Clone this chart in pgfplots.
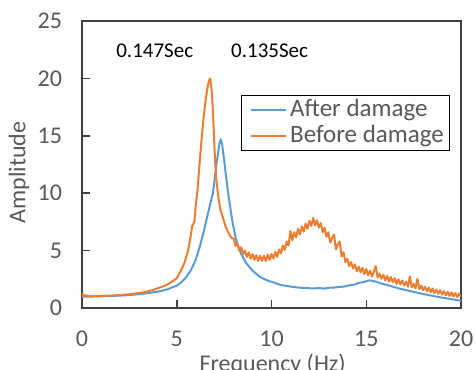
\documentclass[border=0pt]{standalone}
\usepackage{pgfplots}
\pgfplotsset{compat=1.18}
\usepackage{fontspec}
\setmainfont{Carlito}
\definecolor{xlblue}{HTML}{5B9BD5}
\definecolor{xlorange}{HTML}{ED7D31}
\definecolor{txtgray}{HTML}{595959}
\definecolor{axgray}{HTML}{404040}
\begin{document}
\begin{tikzpicture}
\begin{axis}[
  scale only axis, width=189.5pt, height=143.5pt,
  xmin=0, xmax=20, ymin=0, ymax=25,
  xtick={0,5,10,15,20}, ytick={0,5,10,15,20,25},
  tick align=inside, major tick length=4pt,
  axis line style={axgray, line width=0.75pt},
  every tick/.style={axgray, line width=0.75pt},
  xtick pos=bottom, ytick pos=left,
  /pgf/number format/assume math mode=true,
  tick label style={font=\fontsize{12}{14}\selectfont, text=txtgray},
  xticklabel style={yshift=-8pt},
  yticklabel style={xshift=-6.5pt},
  xlabel={Frequency (Hz)}, ylabel={Amplitude},
  label style={font=\fontsize{12}{14}\selectfont, text=txtgray},
  xlabel style={at={(axis description cs:0.503,-0.22)}, anchor=base},
  ylabel style={at={(axis description cs:-0.166,0.472)}, anchor=center},
  legend style={at={(0.971,0.743)}, anchor=north east, draw=black, line width=0.6pt,
    inner xsep=2pt, inner ysep=1.5pt, font=\fontsize{12.5}{14}\selectfont, text=txtgray, row sep=1pt,
    nodes={inner xsep=0.8pt, inner ysep=0.25pt, text height=8.8pt, text depth=2.5pt}},
  legend image code/.code={\path (-2.3pt,0pt) (18.2pt,0pt); \draw[#1, line width=1pt] (0pt,0pt) -- (17.5pt,0pt);},
  legend cell align=left,
]
\addplot[xlblue, line width=1pt, line join=round] coordinates {
(0,0.95) (0.1,1.0) (0.5,1.0) (1,1.02) (1.5,1.05) (2,1.08) (2.5,1.13) (3,1.2) (3.5,1.3) (4,1.42)
(4.5,1.62) (5,1.95) (5.25,2.25) (5.5,2.7) (5.75,3.3) (6.0,4.2) (6.21,5.3) (6.4,6.5) (6.5,7.2)
(6.6,7.9) (6.7,8.6) (6.8,9.3) (6.91,10.0) (7.0,11.2) (7.1,12.6) (7.18,13.5) (7.25,14.3) (7.32,14.7)
(7.4,14.2) (7.5,12.9) (7.6,11.5) (7.7,10.2) (7.79,9.1) (7.95,7.4) (8.14,5.9) (8.4,4.7) (8.67,3.9)
(9.0,3.25) (9.4,2.7) (9.7,2.45) (10.07,2.24) (10.5,2.0) (11,1.87) (11.4,1.78) (11.82,1.74) (12.2,1.7)
(12.5,1.74) (12.8,1.69) (13,1.76) (13.3,1.78) (13.58,1.84) (13.8,1.86) (14.1,1.97) (14.4,2.05) (14.63,2.2)
(14.9,2.28) (15.16,2.42) (15.3,2.36) (15.5,2.3) (15.75,2.15) (16,2.05) (16.4,1.86) (16.74,1.7)
(17.1,1.56) (17.5,1.4) (18,1.22) (18.47,1.07) (18.8,0.96) (19.2,0.85) (19.6,0.74) (20,0.62)
};
\addlegendentry{After damage}
\addplot[xlorange, line width=1pt, line join=round] coordinates {
(0,0.9) (0.05,1.25) (0.1,1.05) (0.2,1.1) (0.5,1.02) (1,1.05) (1.5,1.08) (2,1.12) (2.5,1.2)
(3,1.3) (3.3,1.38) (3.5,1.47) (3.8,1.6) (4,1.72) (4.3,1.9) (4.5,2.05) (4.8,2.35) (5,2.6)
(5.2,3.2) (5.4,3.9) (5.6,5.0) (5.75,6.4) (5.82,7.2) (5.88,7.3) (5.94,7.6) (6.0,8.9) (6.1,10.4)
(6.2,12.5) (6.3,14.5) (6.4,16.3) (6.5,17.8) (6.6,19.0) (6.7,19.8) (6.77,20.0) (6.85,18.8)
(6.9,17.4) (6.95,15.6) (7.0,13.6) (7.05,12.1) (7.1,11.0) (7.2,9.6) (7.3,8.6) (7.43,7.9)
(7.6,7.0) (7.8,6.3) (7.9,6.1)
(8.0,6.05) (8.1,5.4) (8.2,5.65) (8.3,4.95) (8.4,5.3) (8.5,4.7) (8.6,5.0) (8.7,4.45) (8.8,4.85) (8.9,4.3)
(9.0,4.7) (9.1,4.2) (9.2,4.6) (9.3,4.1) (9.4,4.55) (9.5,4.1) (9.6,4.55) (9.7,4.1) (9.8,4.65) (9.9,4.2)
(10.0,4.7) (10.1,4.3) (10.2,4.9) (10.3,4.45) (10.4,5.1) (10.5,4.75) (10.6,5.45) (10.7,5.05) (10.8,5.8) (10.9,5.45)
(11.0,6.7) (11.1,5.9) (11.2,6.6) (11.3,6.15) (11.4,6.9) (11.5,6.4) (11.6,7.1) (11.7,6.65) (11.8,7.35) (11.9,6.9)
(12.0,7.6) (12.1,7.15) (12.2,7.85) (12.3,7.2) (12.4,7.65) (12.5,7.0) (12.6,7.4) (12.7,6.6) (12.8,7.0) (12.9,6.2)
(13.0,6.6) (13.1,5.7) (13.2,6.1) (13.3,6.4) (13.4,5.1) (13.5,5.55) (13.6,5.8) (13.7,4.5) (13.8,4.85) (13.9,4.0)
(14.0,4.3) (14.1,3.65) (14.2,4.0) (14.3,3.45) (14.4,3.8) (14.5,3.2) (14.6,3.6) (14.7,3.1) (14.8,3.5) (14.9,2.95)
(15.0,3.4) (15.1,2.85) (15.2,3.25) (15.3,2.75) (15.4,3.15) (15.5,3.65) (15.6,2.65) (15.7,3.0) (15.8,2.55) (15.9,2.9)
(16.0,2.4) (16.1,2.8) (16.2,2.3) (16.3,2.7) (16.4,2.25) (16.5,2.6) (16.6,2.1) (16.7,2.5) (16.8,2.05) (16.9,2.4)
(17.0,1.95) (17.1,2.3) (17.2,1.85) (17.3,2.75) (17.4,1.8) (17.5,2.1) (17.6,1.7) (17.7,2.55) (17.8,1.65) (17.9,1.95)
(18.0,1.55) (18.1,1.85) (18.2,1.45) (18.3,1.77) (18.4,1.37) (18.5,1.7) (18.6,1.3) (18.7,1.6) (18.8,1.23) (18.9,1.55)
(19.0,1.17) (19.1,1.47) (19.2,1.1) (19.3,1.42) (19.4,1.05) (19.5,1.36) (19.6,1.0) (19.7,1.3) (19.8,0.95) (19.9,1.25)
(20.0,1.0)
};
\addlegendentry{Before damage}
\node[font=\fontsize{10.5}{12}\selectfont, text=black] at (axis cs:3.84,22.45) {0.147Sec};
\node[font=\fontsize{10.5}{12}\selectfont, text=black] at (axis cs:9.9,22.45) {0.135Sec};
\end{axis}
\pgfresetboundingbox
\path[use as bounding box] (-41pt,-30.5pt) rectangle (196.5pt,154pt);
\end{tikzpicture}
\end{document}
